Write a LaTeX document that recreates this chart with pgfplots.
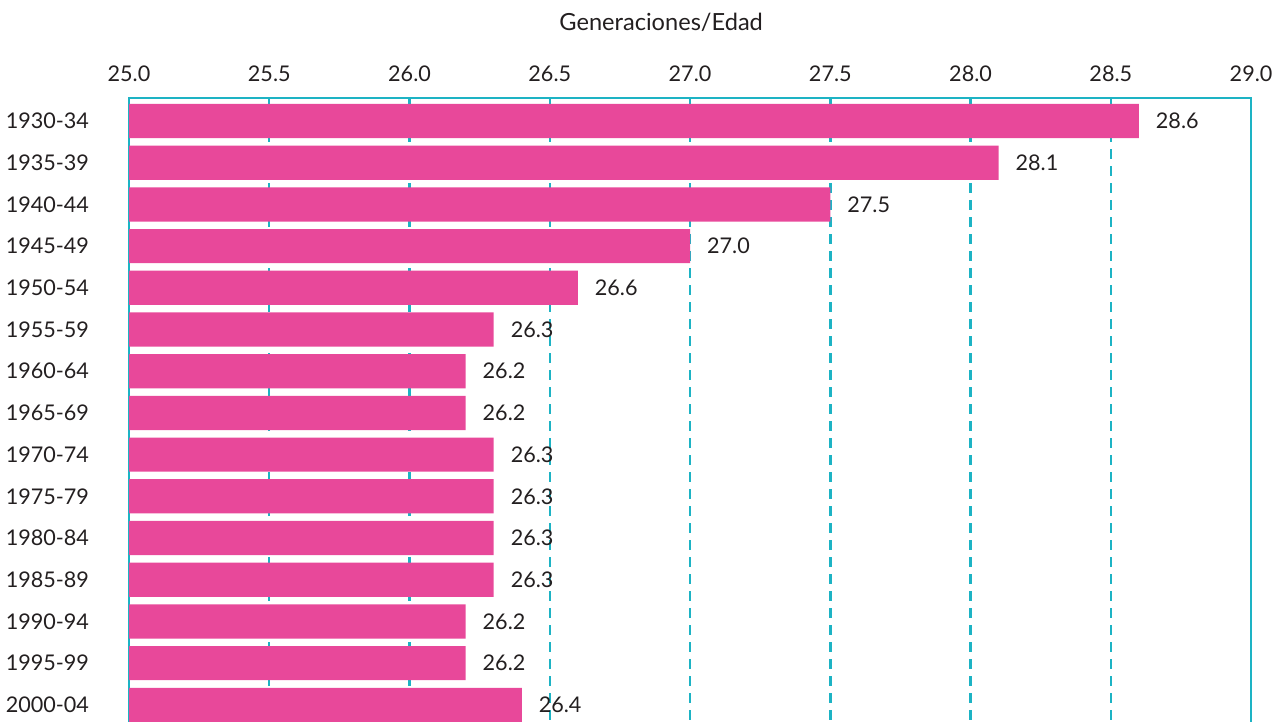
\documentclass[border=0pt]{standalone}
\usepackage{pgfplots}
\pgfplotsset{compat=1.18}
\usepackage{fontspec}
\setmainfont{Lato}
\definecolor{barpink}{HTML}{E8489A}
\definecolor{gridteal}{HTML}{1DB3C4}
\definecolor{txt}{HTML}{231F20}
\begin{document}
\begin{tikzpicture}[font=\fontsize{10.8}{12}\selectfont, color=txt]
\begin{axis}[
  x=140.25pt, y=20.85pt,
  y dir=reverse,
  xmin=25, xmax=29,
  ymin=-0.55, ymax=15,
  clip=false,
  xbar, bar width=0.82,
  bar shift=0pt,
  axis line style={gridteal, line width=1.3pt},
  xticklabel pos=upper,
  xtick={25,25.5,...,29},
  /pgf/number format/assume math mode=true,
  xticklabel style={/pgf/number format/.cd, fixed, fixed zerofill, precision=1, assume math mode=true, /tikz/.cd, yshift=4.5pt, text=txt},
  ytick={0,...,14},
  yticklabels={1930-34,1935-39,1940-44,1945-49,1950-54,1955-59,1960-64,1965-69,1970-74,1975-79,1980-84,1985-89,1990-94,1995-99,2000-04},
  yticklabel style={xshift=-16.5pt, text=txt},
  major tick length=0pt,
  xmajorgrids,
  grid style={gridteal, line width=1.2pt, dash pattern=on 5pt off 3.5pt},
  axis on top=false,
  point meta=x,
  nodes near coords,
  nodes near coords style={/pgf/number format/.cd, fixed, fixed zerofill, precision=1, assume math mode=true, /tikz/.cd, anchor=west, xshift=5pt, text=txt},
]
\addplot[fill=barpink, draw=none] coordinates {
(28.6,0) (28.1,1) (27.5,2) (27.0,3) (26.6,4) (26.3,5) (26.2,6) (26.2,7)
(26.3,8) (26.3,9) (26.3,10) (26.3,11) (26.2,12) (26.2,13) (26.4,14)
};
\node[text=txt, font=\fontsize{11.8}{13}\selectfont] at (axis cs:26.897,-2.374) {Generaciones/Edad};
\coordinate (bbNW) at (axis cs:24.540,-2.902);
\coordinate (bbSE) at (axis cs:29.096,14.388);
\end{axis}
\pgfresetboundingbox
\path[use as bounding box] (bbNW) rectangle (bbSE);
\end{tikzpicture}
\end{document}
